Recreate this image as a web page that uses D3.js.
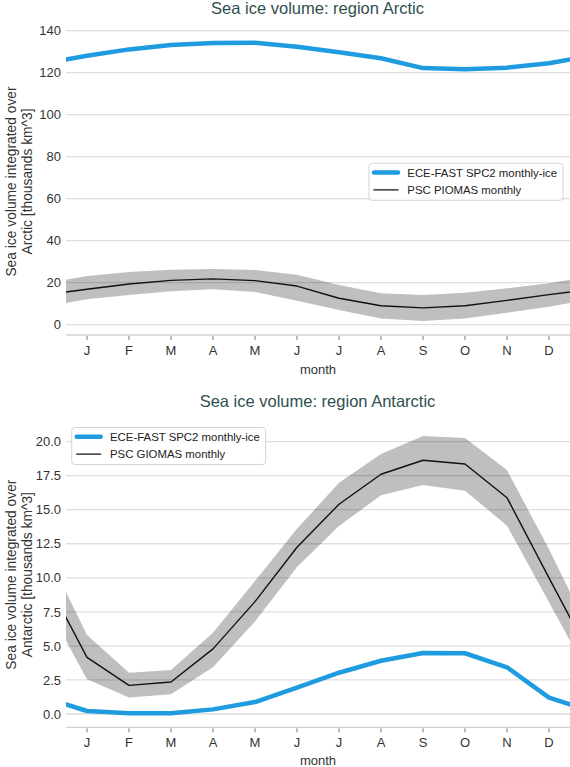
<!DOCTYPE html>
<html>
<head>
<meta charset="utf-8">
<script src="https://cdn.jsdelivr.net/npm/d3@7"></script>
<style>
    body { margin: 0; background: #fff; }
    text { font-family: "Liberation Sans", Arial, sans-serif; }
</style>
</head>
<body>
<svg id="chart" width="570" height="767"></svg>
<script>
//month labels
var monthLabels = ['J', 'F', 'M', 'A', 'M', 'J', 'J', 'A', 'S', 'O', 'N', 'D'];

//Arctic: model and observations (thousands km^3)
var arcticModel = [128.1, 131.1, 133.2, 134.1, 134.3, 132.4, 129.7, 126.9, 122.2, 121.6, 122.4, 124.5];
var arcticObs = [16.9, 19.4, 21.1, 21.8, 21.0, 18.4, 12.6, 9.0, 8.0, 9.0, 11.6, 14.3];
var arcticObsHi = [23.2, 25.1, 26.2, 26.5, 26.0, 23.8, 18.9, 15.0, 14.1, 15.2, 17.3, 19.7];
var arcticObsLo = [12.1, 14.1, 15.9, 16.9, 15.6, 11.4, 7.0, 3.0, 1.8, 3.0, 5.7, 8.6];
var arcticTicks = [0, 20, 40, 60, 80, 100, 120, 140];

//Antarctic: model and observations
var antModel = [0.22, 0.05, 0.05, 0.34, 0.88, 1.93, 3.03, 3.91, 4.48, 4.46, 3.43, 1.2];
var antObs = [4.16, 2.1, 2.35, 4.78, 8.25, 12.24, 15.4, 17.6, 18.63, 18.36, 15.88, 10.0];
var antObsHi = [5.8, 3.03, 3.23, 5.97, 9.76, 13.6, 16.98, 19.09, 20.41, 20.26, 17.91, 12.1];
var antObsLo = [2.55, 1.22, 1.45, 3.43, 6.8, 10.8, 13.8, 16.06, 16.81, 16.4, 13.83, 8.2];
var antTicks = [0, 2.5, 5, 7.5, 10, 12.5, 15, 17.5, 20];

//Colours
var $blue = '#1f9be0';
var $grid = '#dedede';
var $text = '#333';
var $title = '#2f4f4f';

var svg = d3.select('#chart');
var left = 66, right = 570;

var x = d3.scaleLinear().domain([-0.5, 11.5]).range([left, right]);

//pad cyclic year with previous Dec and next Jan
function wrap(arr) {
    var out = [{m: -1, v: arr[11]}];
    arr.forEach(function(v, i) { out.push({m: i, v: v}); });
    out.push({m: 12, v: arr[0]});
    return out;
}

function drawPanel(p) {
    var g = svg.append('g');
    var y = d3.scaleLinear().domain(p.domain).range(p.range);

    g.append('clipPath').attr('id', 'clip-' + p.id)
        .append('rect')
        .attr('x', left).attr('y', p.top)
        .attr('width', right - left).attr('height', p.bottom - p.top);

    //gridlines
    g.selectAll('line.grid')
        .data(p.ticks)
        .enter().append('line')
        .attr('class', 'grid')
        .attr('x1', left).attr('x2', right)
        .attr('y1', function(d) { return y(d); })
        .attr('y2', function(d) { return y(d); })
        .style('stroke', $grid)
        .style('stroke-width', 1.3);

    //y tick labels
    g.selectAll('text.ytick')
        .data(p.ticks)
        .enter().append('text')
        .attr('class', 'ytick')
        .attr('x', 61)
        .attr('y', function(d) { return y(d); })
        .attr('dy', '0.36em')
        .attr('text-anchor', 'end')
        .style('font-size', '13px')
        .style('fill', $text)
        .text(p.format);

    //bottom spine and ticks
    g.append('line')
        .attr('x1', left).attr('x2', right)
        .attr('y1', p.bottom).attr('y2', p.bottom)
        .style('stroke', '#d0d0d0')
        .style('stroke-width', 1.3);

    g.selectAll('line.xtick')
        .data(monthLabels)
        .enter().append('line')
        .attr('class', 'xtick')
        .attr('x1', function(d, i) { return x(i); })
        .attr('x2', function(d, i) { return x(i); })
        .attr('y1', p.bottom + 1).attr('y2', p.bottom + 5)
        .style('stroke', '#777')
        .style('stroke-width', 1);

    g.selectAll('text.xtick')
        .data(monthLabels)
        .enter().append('text')
        .attr('class', 'xtick')
        .attr('x', function(d, i) { return x(i); })
        .attr('y', p.bottom + 20)
        .attr('text-anchor', 'middle')
        .style('font-size', '13px')
        .style('fill', $text)
        .text(function(d) { return d; });

    g.append('text')
        .attr('x', (left + right) / 2)
        .attr('y', p.monthY)
        .attr('text-anchor', 'middle')
        .style('font-size', '13px')
        .style('fill', $text)
        .text('month');

    //title
    g.append('text')
        .attr('x', (left + right) / 2 - 0.5)
        .attr('y', p.titleY)
        .attr('text-anchor', 'middle')
        .style('font-size', '16.5px')
        .style('fill', $title)
        .text('Sea ice volume: region ' + p.region);

    //y label
    var cy = (p.top + p.bottom) / 2;
    var ylab = g.append('text')
        .attr('transform', 'translate(0,' + cy + ') rotate(-90)')
        .attr('text-anchor', 'middle')
        .style('font-size', '13.8px')
        .style('fill', $text);
    ylab.append('tspan').attr('x', 0).attr('y', 16)
        .text('Sea ice volume integrated over');
    ylab.append('tspan').attr('x', 0).attr('y', 31.5)
        .text(p.region + ' [thousands km^3]');

    var data = g.append('g').attr('clip-path', 'url(#clip-' + p.id + ')');

    //observation spread
    var lo = wrap(p.lo), hi = wrap(p.hi);
    var band = lo.map(function(d, i) { return {m: d.m, lo: d.v, hi: hi[i].v}; });
    data.append('path')
        .datum(band)
        .attr('d', d3.area()
            .x(function(d) { return x(d.m); })
            .y0(function(d) { return y(d.lo); })
            .y1(function(d) { return y(d.hi); }))
        .style('fill', '#000')
        .style('fill-opacity', 0.25);

    var line = d3.line()
        .x(function(d) { return x(d.m); })
        .y(function(d) { return y(d.v); });

    data.append('path')
        .datum(wrap(p.model))
        .attr('d', line)
        .style('fill', 'none')
        .style('stroke', $blue)
        .style('stroke-width', 4.5)
        .style('stroke-linejoin', 'round');

    data.append('path')
        .datum(wrap(p.obs))
        .attr('d', line)
        .style('fill', 'none')
        .style('stroke', '#111')
        .style('stroke-width', 1.4)
        .style('stroke-linejoin', 'round');

    //legend
    var lg = g.append('g').attr('transform', 'translate(' + p.legend[0] + ',' + p.legend[1] + ')');
    lg.append('rect')
        .attr('x', 0).attr('y', 0)
        .attr('width', 194).attr('height', 37)
        .attr('rx', 3)
        .style('fill', '#fff')
        .style('fill-opacity', 0.85)
        .style('stroke', '#d4d4d4')
        .style('stroke-width', 1);

    var entries = [
        {label: 'ECE-FAST SPC2 monthly-ice', color: $blue, w: 4.5},
        {label: p.obsName, color: '#111', w: 1.4}
    ];
    var rows = lg.selectAll('g.entry')
        .data(entries)
        .enter().append('g')
        .attr('class', 'entry')
        .attr('transform', function(d, i) { return 'translate(0,' + (9.3 + i * 17.3) + ')'; });
    rows.append('line')
        .attr('x1', 5).attr('x2', 29)
        .style('stroke', function(d) { return d.color; })
        .style('stroke-width', function(d) { return d.w; })
        .style('stroke-linecap', 'round');
    rows.append('text')
        .attr('x', 38.3)
        .attr('dy', '0.36em')
        .style('font-size', '11.4px')
        .style('fill', '#222')
        .text(function(d) { return d.label; });
}

drawPanel({
    id: 'arctic', region: 'Arctic', obsName: 'PSC PIOMAS monthly',
    domain: [0, 140], range: [324.7, 30.7], top: 28, bottom: 335,
    ticks: arcticTicks, format: d3.format('d'), titleY: 13.5, monthY: 374,
    model: arcticModel, obs: arcticObs, lo: arcticObsLo, hi: arcticObsHi,
    legend: [369, 163.3]
});

drawPanel({
    id: 'antarctic', region: 'Antarctic', obsName: 'PSC GIOMAS monthly',
    domain: [0, 20], range: [714, 441.6], top: 422, bottom: 727.3,
    ticks: antTicks, format: d3.format('.1f'), titleY: 406.5, monthY: 764.5,
    model: antModel, obs: antObs, lo: antObsLo, hi: antObsHi,
    legend: [71.7, 427.5]
});
</script>
</body>
</html>
